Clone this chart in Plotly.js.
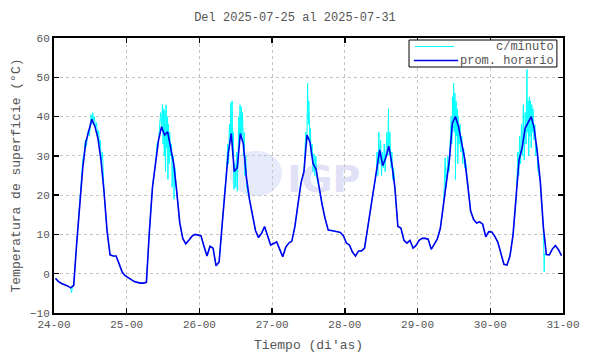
<!DOCTYPE html>
<html>
<head>
<meta charset="utf-8">
<script src="https://cdn.plot.ly/plotly-3.0.1.min.js"></script>
<style>html,body{margin:0;padding:0;background:#fff;}#chart{width:590px;height:354px;}</style>
</head>
<body>
<div id="chart"></div>
<script>
// Hourly averages (prom. horario), one per hour from 24-00 to 31-00, plotted at mid-hour
const hourlyTemps = [
  -1.2, -2.0, -2.5, -2.8, -3.1, -3.6, -3.0, 7.8, 17.5, 27.0, 33.5, 36.5,
  39.3, 37.5, 34.5, 29.0, 21.0, 11.0, 4.8, 4.5, 4.5, 2.5, 0.4, -0.5,
  -1.0, -1.5, -2.0, -2.2, -2.4, -2.4, -2.2, 11.0, 22.0, 28.0, 34.0, 37.4,
  35.3, 36.1, 32.5, 28.0, 21.0, 13.0, 9.0, 7.6, 8.5, 9.5, 10.0, 9.8,
  9.7, 7.0, 4.5, 7.0, 6.5, 2.0, 3.0, 12.5, 22.5, 30.6, 35.7, 26.0,
  27.0, 35.7, 33.0, 24.5, 19.0, 14.5, 11.0, 9.2, 10.3, 12.0, 9.8, 7.3,
  7.7, 8.1, 6.2, 4.3, 6.8, 7.8, 8.3, 12.0, 17.5, 23.0, 26.0, 35.3,
  33.5, 28.0, 26.6, 22.0, 17.5, 14.0, 11.1, 11.0, 10.9, 10.7, 10.5, 9.7,
  7.8, 7.3, 5.5, 4.5, 5.8, 5.8, 6.5, 12.0, 16.5, 21.5, 26.0, 31.5,
  27.5, 29.5, 32.5, 28.0, 22.0, 12.0, 11.6, 8.5, 7.8, 8.5, 6.5, 7.2,
  8.5, 9.0, 9.0, 8.8, 6.2, 7.5, 8.8, 11.5, 17.0, 23.0, 29.0, 38.3,
  40.0, 37.5, 33.5, 29.5, 23.0, 16.0, 13.8, 12.9, 13.2, 12.6, 9.4, 10.7,
  10.6, 9.5, 8.0, 5.3, 2.4, 2.2, 4.5, 9.8, 18.5, 29.0, 32.0, 37.0,
  38.5, 40.0, 37.0, 31.0, 23.5, 12.0, 4.9, 4.8, 6.3, 7.2, 6.1, 4.6
];

// Per-minute readings (c/minuto) that stand out from the hourly line (hours since 24-00)
const minuteHours = [
  5.8, 6.1,
  9.5, 10.0, 10.3, 10.7, 11.0, 11.3, 11.7, 12.0, 12.2, 12.5, 12.8, 13.0, 13.3, 13.7, 14.0, 14.3, 14.7, 15.0, 15.3, 15.7, 16.0,
  34.0, 34.8, 35.2, 35.5, 35.8, 36.0, 36.2, 36.4, 36.6, 36.8, 37.0, 37.2, 37.4, 37.6, 37.8, 38.0, 38.2, 38.5, 38.8, 39.0, 39.3, 39.6, 39.9, 40.2,
  57.0, 57.3, 57.6, 57.9, 58.2, 58.4, 58.6, 58.8, 59.0, 59.2, 59.4, 59.7, 60.0, 60.3, 60.5, 60.8, 61.0, 61.2, 61.4, 61.6, 61.8, 62.0, 62.2, 62.5, 62.8, 63.0, 63.3, 63.6,
  82.8, 83.1, 83.4, 83.7, 83.9, 84.1, 84.3, 84.6, 84.9, 85.2, 85.5, 85.8, 86.1, 86.4, 86.8,
  106.6, 106.9, 107.2, 107.5, 107.8, 108.1, 108.4, 108.7, 109.0, 109.3, 109.6, 109.9, 110.2, 110.4, 110.6, 110.9, 111.2, 111.5, 111.8, 112.1,
  128.8, 129.1, 129.4, 130.0, 130.4, 130.8, 131.1, 131.3, 131.5, 131.7, 131.9, 132.1, 132.3, 132.5, 132.7, 132.9, 133.1, 133.3, 133.5, 133.7, 134.0, 134.3, 134.6, 134.9, 135.2, 135.5, 135.8,
  152.8, 153.1, 153.4, 153.7, 154.0, 154.3, 154.6, 154.9, 155.2, 155.5, 155.8, 156.1, 156.3, 156.5, 156.7, 156.9, 157.1, 157.3, 157.5, 157.7, 157.9, 158.1, 158.4, 158.7, 159.0, 159.3, 159.6,
  161.8, 161.9
];
const minuteTemps = [
  -4.8, -3.2,
  29, 31, 34, 32.5, 35, 36.5, 35, 38, 40.5, 38, 41, 39, 40, 37, 38.5, 35, 36.5, 33, 34, 30, 31,
  33, 38, 41, 38, 43, 33, 42, 30, 41.5, 26, 43, 32, 40, 24, 38, 28, 36, 30, 33, 22, 30, 19, 27, 23,
  27, 33, 28, 38, 34, 43.5, 36, 44, 30, 36, 21.5, 28, 22, 31, 21, 34, 40, 33, 43, 37, 42.5, 35, 41, 30, 36, 25, 30, 22,
  30, 36, 33, 48.5, 38, 44, 35, 37, 30, 33, 26, 30.5, 25, 30, 24,
  31, 25, 36, 28, 34, 25, 31, 27, 33, 26, 31, 36, 30, 42, 33, 36, 27, 31, 24, 27,
  22, 29.5, 22, 30, 26, 34, 40, 33, 45, 37, 48.5, 36, 46, 24, 44, 35, 42, 28, 40, 33, 38, 31, 35, 28, 32, 27, 29,
  24, 31, 25, 35, 28, 38, 30, 43, 29, 41, 33, 52, 36, 44, 30, 45, 35, 44, 32, 43, 36, 42, 34, 38, 30, 33, 27,
  0.5, 5
];

const dayTickHours = [0, 24, 48, 72, 96, 120, 144, 168];
const dayTickLabels = ['24-00', '25-00', '26-00', '27-00', '28-00', '29-00', '30-00', '31-00'];
const tempTicks = [-10, 0, 10, 20, 30, 40, 50, 60];
const seriesNames = ['c/minuto', 'prom. horario'];
const seriesColors = ['#00ffff', '#0000ee'];

const hourlyX = hourlyTemps.map((_, i) => i + 0.5);

// minute trace: hourly points merged with the standout minute readings, in time order
const merged = hourlyX.map((x, i) => [x, hourlyTemps[i]])
  .concat(minuteHours.map((x, i) => [x, minuteTemps[i]]))
  .sort((a, b) => a[0] - b[0]);

const FONT = 'Liberation Mono, Courier New, monospace';
const TXT = '#555';

const traces = [
  {
    x: merged.map(p => p[0]), y: merged.map(p => p[1]),
    type: 'scatter', mode: 'lines', name: seriesNames[0],
    line: {color: seriesColors[0], width: 1}
  },
  {
    x: hourlyX, y: hourlyTemps,
    type: 'scatter', mode: 'lines', name: seriesNames[1],
    line: {color: seriesColors[1], width: 1.6}
  }
];

const layout = {
  width: 590, height: 354,
  margin: {l: 54, r: 27, t: 38, b: 41},
  paper_bgcolor: '#fff', plot_bgcolor: '#fff',
  font: {family: FONT, size: 11, color: TXT},
  title: {text: 'Del 2025-07-25 al 2025-07-31', x: 0.5, xanchor: 'center', y: 0.952, yanchor: 'middle',
          font: {family: FONT, size: 12, color: TXT}},
  showlegend: false,
  xaxis: {
    range: [0, 168], tickvals: dayTickHours, ticktext: dayTickLabels,
    ticks: 'inside', ticklen: 5, tickwidth: 1.5, tickcolor: '#000',
    showline: true, linecolor: '#000', linewidth: 2, mirror: 'ticks',
    showgrid: true, gridcolor: '#c4c4c4', griddash: 'dot', gridwidth: 1,
    zeroline: false, tickfont: {family: FONT, size: 11, color: TXT},
    title: {text: "Tiempo (di'as)", font: {family: FONT, size: 13, color: TXT}, standoff: 10}
  },
  yaxis: {
    range: [-10, 60], tickvals: tempTicks,
    ticks: 'inside', ticklen: 5, tickwidth: 1.5, tickcolor: '#000',
    showline: true, linecolor: '#000', linewidth: 2, mirror: 'ticks',
    showgrid: true, gridcolor: '#c4c4c4', griddash: 'dot', gridwidth: 1,
    zeroline: false, tickfont: {family: FONT, size: 11, color: TXT},
    title: {text: 'Temperatura de superficie (°C)', font: {family: FONT, size: 13, color: TXT}, standoff: 6}
  },
  shapes: [
    // watermark globe + letters
    {type: 'circle', xref: 'paper', yref: 'paper', layer: 'below',
     x0: 0.345, x1: 0.448, y0: 0.425, y1: 0.59,
     fillcolor: 'rgba(222,228,250,0.75)', line: {width: 0}},
    {type: 'rect', xref: 'paper', yref: 'paper', layer: 'below',
     x0: 0.44, x1: 0.62, y0: 0.40, y1: 0.60,
     fillcolor: 'rgba(0,0,0,0)', line: {width: 0},
     label: {text: 'IGP', font: {family: 'DejaVu Sans, sans-serif', size: 38, color: 'rgb(224,224,246)', weight: 'bold'},
             textposition: 'middle center'}},
    // legend box
    {type: 'rect', xref: 'paper', yref: 'paper', layer: 'above',
     x0: 0.6975, x1: 0.988, y0: 0.8945, y1: 0.9927,
     fillcolor: '#fff', line: {color: '#000', width: 1}},
    {type: 'line', xref: 'paper', yref: 'paper', layer: 'above',
     x0: 0.709, x1: 0.786, y0: 0.969, y1: 0.969, line: {color: seriesColors[0], width: 1}},
    {type: 'line', xref: 'paper', yref: 'paper', layer: 'above',
     x0: 0.707, x1: 0.794, y0: 0.918, y1: 0.918, line: {color: seriesColors[1], width: 1.6}}
  ],
  annotations: [
    {xref: 'paper', yref: 'paper', x: 0.986, y: 0.969, xanchor: 'right', yanchor: 'middle',
     text: seriesNames[0], showarrow: false, font: {family: FONT, size: 12, color: TXT}},
    {xref: 'paper', yref: 'paper', x: 0.986, y: 0.918, xanchor: 'right', yanchor: 'middle',
     text: seriesNames[1], showarrow: false, font: {family: FONT, size: 12, color: TXT}}
  ]
};

Plotly.newPlot('chart', traces, layout, {staticPlot: true, displayModeBar: false});
</script>
</body>
</html>
